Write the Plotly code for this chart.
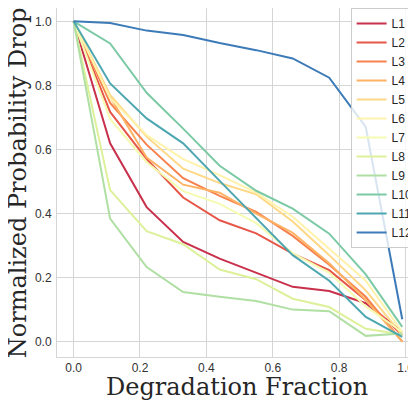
import plotly.graph_objects as go

x_vals = [0.0, 0.11, 0.22, 0.33, 0.44, 0.55, 0.66, 0.77, 0.88, 0.99]

names = ["L1", "L2", "L3", "L4", "L5", "L6", "L7", "L8", "L9", "L10", "L11", "L12"]

L1 = [1.0, 0.619, 0.42, 0.311, 0.259, 0.214, 0.171, 0.158, 0.12, 0.03]
L2 = [1.0, 0.717, 0.57, 0.45, 0.379, 0.338, 0.275, 0.223, 0.129, 0.02]
L3 = [1.0, 0.745, 0.615, 0.51, 0.455, 0.405, 0.33, 0.24, 0.14, 0.0]
L4 = [1.0, 0.764, 0.575, 0.49, 0.465, 0.40, 0.34, 0.245, 0.13, 0.0]
L5 = [1.0, 0.77, 0.64, 0.54, 0.495, 0.46, 0.375, 0.27, 0.16, 0.02]
L6 = [1.0, 0.76, 0.645, 0.57, 0.52, 0.465, 0.39, 0.29, 0.19, 0.03]
L7 = [1.0, 0.695, 0.56, 0.47, 0.43, 0.37, 0.276, 0.215, 0.11, 0.03]
L8 = [1.0, 0.473, 0.345, 0.304, 0.225, 0.195, 0.134, 0.108, 0.04, 0.022]
L9 = [1.0, 0.384, 0.233, 0.155, 0.14, 0.127, 0.1, 0.095, 0.018, 0.025]
L10 = [1.0, 0.931, 0.777, 0.665, 0.549, 0.471, 0.415, 0.337, 0.21, 0.046]
L11 = [1.0, 0.806, 0.697, 0.619, 0.502, 0.386, 0.27, 0.19, 0.077, 0.015]
L12 = [1.0, 0.995, 0.971, 0.957, 0.932, 0.91, 0.884, 0.824, 0.67, 0.07]

series = [L1, L2, L3, L4, L5, L6, L7, L8, L9, L10, L11, L12]

colors = ["#c8304c", "#e65749", "#f7814c", "#fdb264", "#fed885", "#fff3ab",
          "#f5fbb0", "#ddf19a", "#b0dfa3", "#7bcaa5", "#4ea7b0", "#3c7bb7"]

x_ticks = [0.0, 0.2, 0.4, 0.6, 0.8, 1.0]
y_ticks = [0.0, 0.2, 0.4, 0.6, 0.8, 1.0]

x_title = "Degradation Fraction"
y_title = "Normalized Probability Drop"

fig = go.Figure()
for name, vals, col in zip(names, series, colors):
    fig.add_trace(go.Scatter(x=x_vals, y=vals, mode="lines", name=name,
                             line=dict(color=col, width=2)))

grid = "#d5d5d5"
title_font = dict(family="DejaVu Serif, serif", size=24, color="#262626")
fig.update_layout(
    width=416, height=401,
    margin=dict(l=49, r=0, t=0, b=52, autoexpand=False),
    paper_bgcolor="white", plot_bgcolor="white",
    font=dict(family="Liberation Sans, Arial, sans-serif", color="#262626", size=12),
    showlegend=True,
    legend=dict(x=0.80, y=1.0, xanchor="left", yanchor="top",
                bgcolor="rgba(255,255,255,0.8)", bordercolor="#cccccc", borderwidth=1,
                font=dict(size=12, color="#262626"), tracegroupgap=0),
    xaxis=dict(range=[-0.05, 1.0555], tickvals=x_ticks, tickformat=".1f",
               showgrid=True, gridcolor=grid, gridwidth=1, zeroline=False,
               showline=True, linecolor=grid, linewidth=1, mirror=True,
               ticks="", automargin=False, tickfont=dict(size=12, color="#333333")),
    yaxis=dict(range=[-0.048, 1.0416], tickvals=y_ticks, tickformat=".1f",
               showgrid=True, gridcolor=grid, gridwidth=1, zeroline=False,
               showline=True, linecolor=grid, linewidth=1,
               ticks="", automargin=False, ticklabelstandoff=2,
               tickfont=dict(size=12, color="#333333")),
    annotations=[
        dict(text=x_title, xref="paper", yref="paper", x=0.491, y=-0.086,
             xanchor="center", yanchor="middle", showarrow=False, font=title_font),
        dict(text=y_title, xref="paper", yref="paper", x=-0.107, y=0.5,
             xanchor="center", yanchor="middle", textangle=-90, showarrow=False,
             font=title_font),
    ],
)

fig.write_html("out.html")
